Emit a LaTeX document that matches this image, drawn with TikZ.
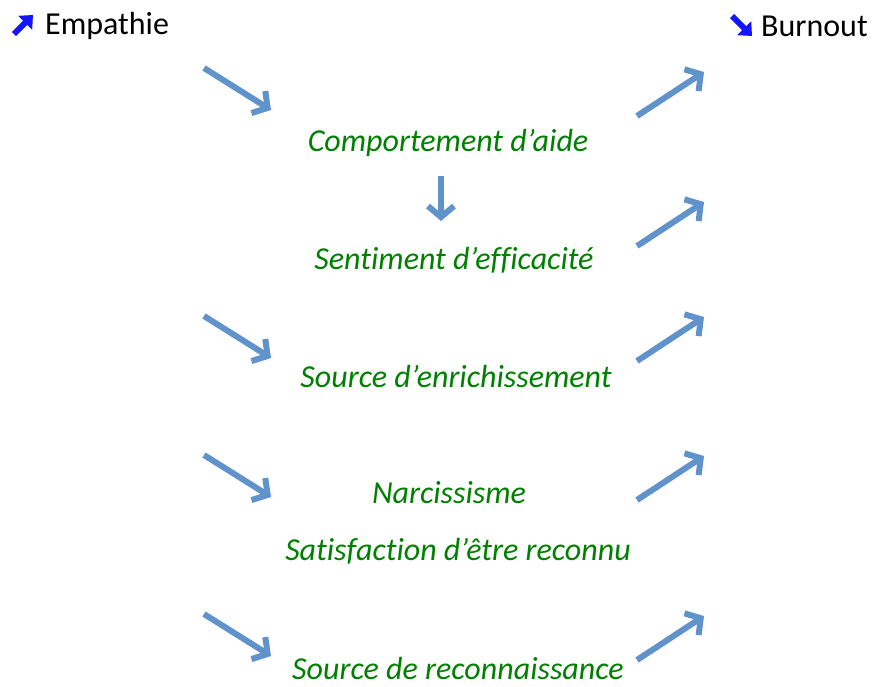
\documentclass[tikz,border=0pt]{standalone}
\usepackage{fontspec}
\setmainfont{Carlito}[Ligatures={NoCommon}]
\usetikzlibrary{arrows.meta}
\definecolor{arrblue}{RGB}{96,146,204}
\definecolor{txtgreen}{RGB}{0,128,0}
\definecolor{iconblue}{RGB}{20,20,255}
\tikzset{
  bigarrow/.style={draw=arrblue, line width=6pt, -{Straight Barb[length=11pt,width=26pt]}},
  lbl/.style={font=\fontsize{32}{38}\selectfont\itshape, text=txtgreen, inner sep=0pt},
  head/.style={font=\fontsize{32}{38}\selectfont, inner sep=0pt, anchor=west},
  icon/.style={draw=iconblue, line width=6pt, -{Triangle[length=11pt,width=19pt]}}
}
\begin{document}
\begin{tikzpicture}[x=1pt,y=-1pt]
\useasboundingbox (0,0) rectangle (873,686);
% headers
\node[head] (emp) at (45,26) {Empathie};
\node[head] (burn) at (761,26) {Burnout};
\coordinate (i1a) at (14,34); \coordinate (i1b) at (33,15);
\draw[icon] (i1a) -- (i1b);
\coordinate (i2a) at (732,16); \coordinate (i2b) at (752,36);
\draw[icon] (i2a) -- (i2b);
% labels
\node[lbl] (t1) at (448,143) {Comportement d’aide};
\node[lbl] (t2) at (454,260) {Sentiment d’efficacité};
\node[lbl] (t3) at (456,377) {Source d’enrichissement};
\node[lbl] (t4) at (449,493) {Narcissisme};
\node[lbl] (t5) at (458,551) {Satisfaction d’être reconnu};
\node[lbl] (t6) at (458,668) {Source de reconnaissance};
% left arrows
\foreach \n/\y in {1/68,3/316,4/455,5/614}{
  \coordinate (l\n a) at (204,\y); \coordinate (l\n b) at (271,\y+42);
  \draw[bigarrow] (l\n a) -- (l\n b);
}
% right arrows
\foreach \n/\y in {1/116,2/246,3/361,4/500,5/660}{
  \coordinate (r\n a) at (637,\y); \coordinate (r\n b) at (704,\y-44);
  \draw[bigarrow] (r\n a) -- (r\n b);
}
% down arrow
\coordinate (da) at (441,176); \coordinate (db) at (441,221);
\draw[bigarrow] (da) -- (db);
\end{tikzpicture}
\end{document}
